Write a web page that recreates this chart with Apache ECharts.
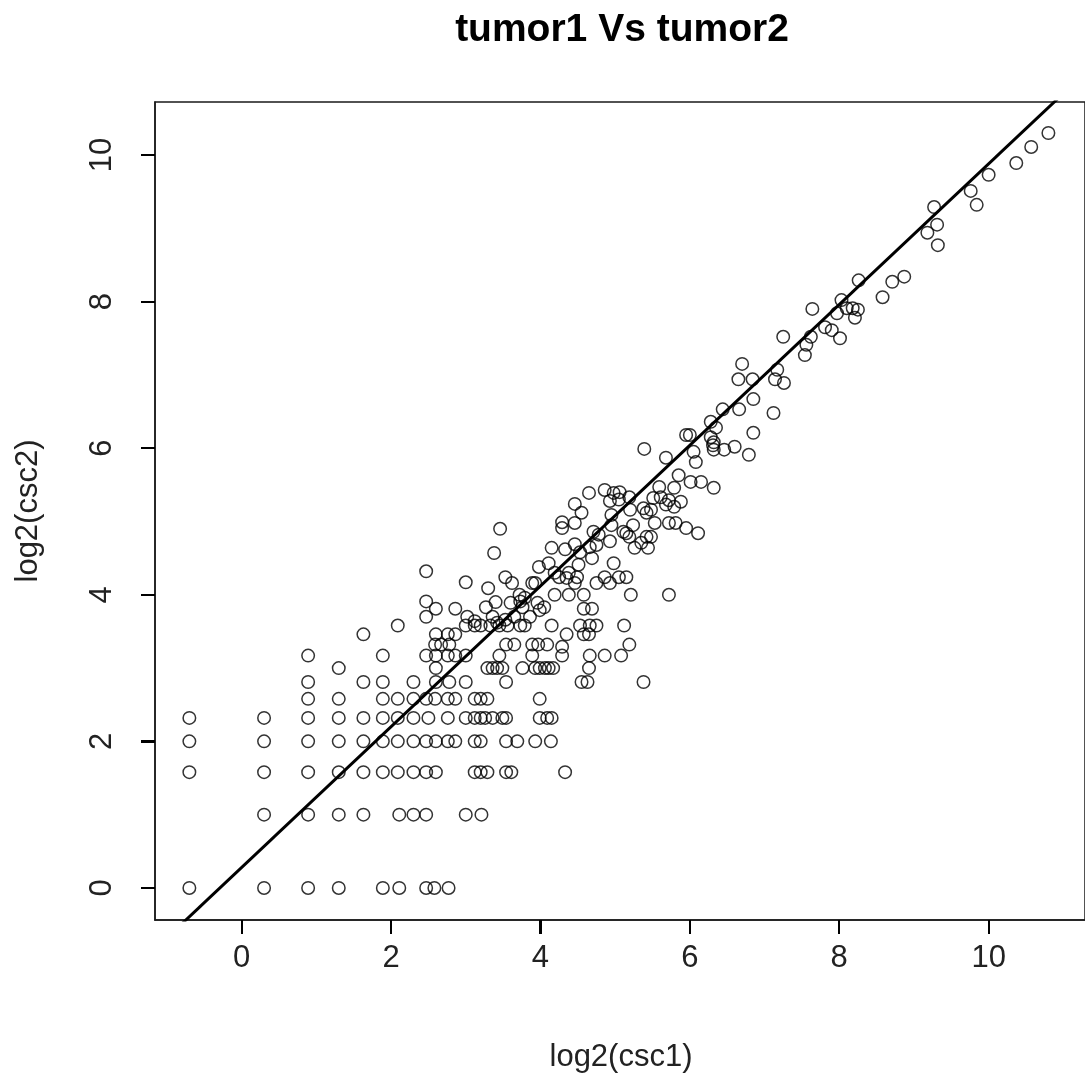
<!DOCTYPE html>
<html>
<head>
<meta charset="utf-8">
<title>tumor1 Vs tumor2</title>
<script src="https://cdn.jsdelivr.net/npm/echarts@6/dist/echarts.min.js"></script>
<style>
  html, body { margin: 0; padding: 0; background: #fff; }
  #chart { width: 1085px; height: 1083px; }
</style>
</head>
<body>
<div id="chart"></div>
<script>
// Labels
const chartTitle = 'tumor1 Vs tumor2';
const xTitle = 'log2(csc1)';
const yTitle = 'log2(csc2)';

// Axis ranges and tick values
const xRange = [-1.16, 11.29];
const yRange = [-0.437, 10.723];
const xTicks = [0, 2, 4, 6, 8, 10];
const yTicks = [0, 2, 4, 6, 8, 10];

// Fitted line: log2(csc2) = intercept + slope * log2(csc1)
const fitIntercept = 0.28;
const fitSlope = 0.96;

// Points [log2(csc1), log2(csc2)], grouped by csc2 level
const rowLow = [
  [-0.70,0],[0.30,0],[0.89,0],[1.30,0],[1.89,0],[2.11,0],[2.47,0],[2.58,0],[2.77,0],
  [0.30,1],[0.89,1],[1.30,1],[1.63,1],[2.11,1],[2.30,1],[2.47,1],[3.00,1],[3.21,1],
  [-0.70,1.58],[0.30,1.58],[0.89,1.58],[1.30,1.58],[1.63,1.58],[1.89,1.58],[2.09,1.58],[2.30,1.58],
  [2.47,1.58],[2.60,1.58],[3.12,1.58],[3.20,1.58],[3.29,1.58],[3.54,1.58],[3.61,1.58],[4.33,1.58]
];
const rowMid = [
  [-0.70,2],[0.30,2],[0.89,2],[1.30,2],[1.63,2],[1.89,2],[2.09,2],[2.30,2],[2.47,2],[2.60,2],
  [2.76,2],[2.86,2],[3.12,2],[3.20,2],[3.54,2],[3.69,2],[3.93,2],[4.14,2],
  [-0.70,2.32],[0.30,2.32],[0.89,2.32],[1.30,2.32],[1.63,2.32],[1.89,2.32],[2.09,2.32],[2.30,2.32],
  [2.50,2.32],[2.76,2.32],[3.00,2.32],[3.12,2.32],[3.20,2.32],[3.26,2.32],[3.36,2.32],[3.49,2.32],
  [3.54,2.32],[3.99,2.32],[4.09,2.32],[4.15,2.32],
  [0.89,2.58],[1.30,2.58],[1.89,2.58],[2.09,2.58],[2.30,2.58],[2.47,2.58],[2.59,2.58],[2.76,2.58],
  [2.86,2.58],[3.12,2.58],[3.20,2.58],[3.29,2.58],[3.99,2.58],
  [0.89,2.81],[1.63,2.81],[1.89,2.81],[2.30,2.81],[2.60,2.81],[2.78,2.81],[3.00,2.81],[3.54,2.81],
  [4.55,2.81],[4.63,2.81],[5.38,2.81]
];
const rowThree = [
  [1.30,3],[2.60,3],[3.29,3],[3.36,3],[3.42,3],[3.49,3],[3.76,3],[3.93,3],[3.99,3],[4.06,3],
  [4.11,3],[4.17,3],[4.65,3],
  [0.89,3.17],[1.89,3.17],[2.47,3.17],[2.60,3.17],[2.76,3.17],[2.86,3.17],[3.00,3.17],[3.45,3.17],
  [3.89,3.17],[4.29,3.17],[4.66,3.17],[4.86,3.17],[5.08,3.17],
  [2.59,3.32],[2.67,3.32],[2.78,3.32],[3.54,3.32],[3.65,3.32],[3.89,3.32],[3.97,3.32],[4.09,3.32],
  [4.29,3.29],[5.19,3.32],
  [1.63,3.46],[2.60,3.46],[2.76,3.46],[2.86,3.46],[4.35,3.46],[4.58,3.46],[4.65,3.46],
  [2.09,3.58],[3.00,3.58],[3.12,3.58],[3.20,3.58],[3.33,3.58],[3.45,3.58],[3.56,3.58],[3.73,3.58],
  [3.79,3.58],[4.15,3.58],[4.53,3.58],[4.66,3.58],[4.75,3.58],[5.12,3.58],
  [2.47,3.70],[3.02,3.70],[3.36,3.70],[3.53,3.66],[3.65,3.70],[3.86,3.70],[3.42,3.62],[3.12,3.64],
  [2.60,3.81],[2.86,3.81],[3.27,3.83],[3.76,3.83],[3.99,3.79],[4.05,3.83],[4.58,3.81],[4.69,3.81],
  [2.47,3.91],[3.40,3.90],[3.60,3.89],[3.73,3.91],[3.96,3.89]
];
const rowFour = [
  [3.72,4.00],[3.79,3.96],[4.19,4.00],[4.38,4.00],[4.58,4.00],[5.21,4.00],[5.72,4.00],
  [3.30,4.09],
  [3.00,4.17],[3.62,4.16],[3.89,4.16],[3.93,4.16],[4.46,4.16],[4.75,4.16],[4.93,4.16],
  [3.53,4.24],[4.25,4.24],[4.35,4.23],[4.49,4.24],[4.86,4.24],[5.05,4.24],[5.15,4.24],
  [2.47,4.32],[4.19,4.30],[4.38,4.30],
  [3.98,4.38],[4.11,4.43],[4.51,4.41],[4.69,4.50],[4.98,4.43],
  [3.38,4.57],[4.15,4.64],[4.33,4.62],[4.46,4.69],[4.53,4.58],[4.66,4.65],[4.75,4.68],[4.93,4.73],
  [5.26,4.64],[5.44,4.64],[5.35,4.71],
  [3.46,4.90],[4.29,4.91],[4.71,4.86],[4.78,4.82],[5.11,4.86],[5.19,4.79],[5.15,4.84],[5.42,4.79],
  [5.48,4.79],[6.11,4.84],[5.95,4.91]
];
const rowFive = [
  [4.29,4.99],[4.46,4.98],[4.95,4.95],[5.24,4.95],[5.53,4.98],[5.72,4.98],[5.81,4.98],
  [4.55,5.12],[4.95,5.09],[5.20,5.16],[5.38,5.18],[5.48,5.16],[5.42,5.12],[5.68,5.23],[5.79,5.20],
  [4.46,5.24],
  [4.93,5.28],[5.05,5.30],[5.19,5.33],[5.51,5.32],[5.61,5.33],[5.72,5.29],[5.88,5.27],
  [4.65,5.39],[4.86,5.43],[4.98,5.39],[5.06,5.40],[5.59,5.47],[5.79,5.46],[6.01,5.54],[6.15,5.54],
  [6.32,5.46],
  [5.85,5.63],[5.68,5.87],[6.05,5.95],[6.08,5.81],[5.39,5.99],[6.32,5.98],[6.46,5.98],[6.60,6.02],
  [6.79,5.91],[6.31,6.04]
];
const rowHigh = [
  [5.95,6.18],[6.00,6.18],[6.28,6.15],[6.32,6.08],[6.85,6.21],[6.28,6.36],[6.35,6.28],
  [6.44,6.53],[6.66,6.53],[7.12,6.48],[6.85,6.67],[6.65,6.94],[6.84,6.94],[7.14,6.94],[7.26,6.89],
  [7.17,7.07],[6.70,7.15],[7.25,7.52],[7.54,7.27],[7.56,7.41],[7.62,7.52],[7.64,7.90],[7.81,7.65],
  [7.90,7.61],[8.01,7.50],[7.97,7.84],[8.03,8.02],[8.10,7.91],[8.18,7.91],[8.25,7.89],[8.21,7.78],
  [8.26,8.29],[8.58,8.06],[8.71,8.27],[8.87,8.34],[9.18,8.94],[9.27,9.29],[9.31,9.05],[9.32,8.77],
  [9.76,9.51],[9.84,9.32],[10.00,9.73],[10.37,9.89],[10.57,10.11],[10.80,10.30]
];

const points = [].concat(rowLow, rowMid, rowThree, rowFour, rowFive, rowHigh);

// End points of the fitted line across (and past) the visible x range; clipped by the grid
const lineX = [xRange[0] - 0.2, xRange[1] + 0.2];
const fitLine = lineX.map(x => [x, fitIntercept + fitSlope * x]);

const FONT = '"Liberation Sans", Arial, Helvetica, sans-serif';
const AXIS_COLOR = '#1a1a1a';
const TICK_LEN = 14;
const TICK_W = 2;

const chart = echarts.init(document.getElementById('chart'), null, { renderer: 'canvas' });

chart.setOption({
  animation: false,
  backgroundColor: '#ffffff',
  grid: {
    left: 155, top: 102, width: 937, height: 818,
    show: true, borderColor: AXIS_COLOR, borderWidth: 1.5, backgroundColor: 'transparent'
  },
  xAxis: {
    type: 'value', min: xRange[0], max: xRange[1],
    axisLine: { show: true, onZero: false, lineStyle: { color: AXIS_COLOR, width: 1.5 } },
    splitLine: { show: false },
    axisTick: { show: true, length: TICK_LEN, lineStyle: { color: '#000', width: TICK_W }, customValues: xTicks },
    axisLabel: { customValues: xTicks, fontSize: 31, color: '#222', margin: 23, fontFamily: FONT }
  },
  yAxis: {
    type: 'value', min: yRange[0], max: yRange[1],
    axisLine: { show: true, onZero: false, lineStyle: { color: AXIS_COLOR, width: 1.5 } },
    splitLine: { show: false },
    axisTick: { show: true, length: TICK_LEN, lineStyle: { color: '#000', width: TICK_W }, customValues: yTicks },
    axisLabel: { customValues: yTicks, fontSize: 31, color: '#222', margin: 37, rotate: 90, fontFamily: FONT }
  },
  series: [
    {
      type: 'scatter',
      data: points,
      symbol: 'circle',
      symbolSize: 12.5,
      itemStyle: { color: 'rgba(0,0,0,0)', borderColor: '#000', borderWidth: 1.5 },
      silent: true,
      z: 2
    },
    {
      type: 'line',
      data: fitLine,
      symbol: 'none',
      lineStyle: { color: '#000', width: 3 },
      clip: true,
      silent: true,
      z: 3
    }
  ]
});

// Titles and outward tick marks (filled bars); positions come from the grid's own scales
const tickElements = [];
xTicks.forEach(v => {
  const p = chart.convertToPixel({ gridIndex: 0 }, [v, yRange[0]]);
  tickElements.push({ type: 'rect', silent: true, z: 100,
    shape: { x: Math.round(p[0]) - TICK_W / 2, y: Math.round(p[1]), width: TICK_W, height: TICK_LEN },
    style: { fill: '#000' } });
});
yTicks.forEach(v => {
  const p = chart.convertToPixel({ gridIndex: 0 }, [xRange[0], v]);
  tickElements.push({ type: 'rect', silent: true, z: 100,
    shape: { x: Math.round(p[0]) - TICK_LEN, y: Math.round(p[1]) - TICK_W / 2, width: TICK_LEN, height: TICK_W },
    style: { fill: '#000' } });
});

chart.setOption({
  graphic: {
    elements: [
      { type: 'text', x: 622, y: 30, style: { text: chartTitle, font: 'bold 39px ' + FONT, fill: '#000', textAlign: 'center', textVerticalAlign: 'middle' } },
      { type: 'text', x: 621, y: 1057, style: { text: xTitle, font: '31px ' + FONT, fill: '#222', textAlign: 'center', textVerticalAlign: 'middle' } },
      { type: 'text', x: 28, y: 511, rotation: Math.PI / 2, style: { text: yTitle, font: '31px ' + FONT, fill: '#222', textAlign: 'center', textVerticalAlign: 'middle' } }
    ].concat(tickElements)
  }
});
</script>
</body>
</html>
